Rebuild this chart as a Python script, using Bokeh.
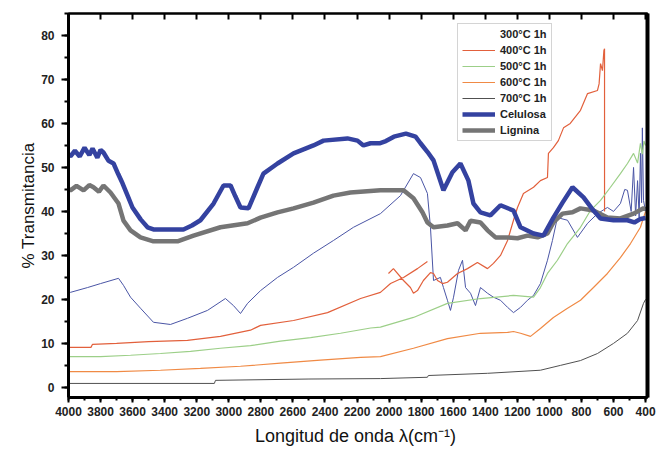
import math
from bokeh.plotting import figure
from bokeh.models import (Range1d, LinearAxis, SingleIntervalTicker, FixedTicker, Legend, LegendItem)
from bokeh.embed import file_html
from bokeh.resources import INLINE

NaN = float("nan")

# ---------------- data ----------------
x_300 = [4000, 3988, 3881, 3800, 3688, 3657, 3613, 3551, 3470, 3364, 3258, 3133, 3021, 2971, 2927,
         2883, 2802, 2696, 2596, 2472, 2347, 2222, 2054, 1929, 1848, 1804, 1761, 1742, 1723, 1680,
         1661, 1636, 1617, 1598, 1567, 1542, 1523, 1492, 1461, 1430, 1386, 1349, 1305, 1261, 1224,
         1180, 1137, 1099, 1056, 1012, 981, 950, 887, 825, 762, 700, 638, 600, 557, 530, 513, 490,
         475, 462, 450, 440, 432, 425, 420, 413, 400]
y_300 = [21.8, 21.6, 22.7, 23.6, 24.8, 23.2, 20.5, 18.0, 14.8, 14.3, 15.7, 17.5, 20.2, 18.6, 16.8,
         19.1, 22.0, 25.0, 27.3, 30.5, 33.4, 36.4, 39.5, 43.6, 48.6, 47.7, 44.1, 36.4, 24.3, 25.0,
         22.7, 19.8, 17.5, 20.5, 26.6, 28.9, 22.7, 21.4, 18.6, 22.7, 21.4, 20.5, 19.8, 18.2, 17.0,
         18.2, 19.8, 20.9, 23.6, 28.9, 33.4, 38.6, 38.0, 34.1, 37.3, 39.5, 40.9, 40.0, 41.8, 45.0,
         44.8, 40.0, 50.0, 39.0, 47.0, 38.6, 53.2, 42.0, 59.0, 42.5, 40.0]

x_400 = [4000, 3860, 3850, 3700, 3500, 3258, 3052, 2865, 2802, 2596, 2384, 2178, 2054, 1991, 1910,
         1823, 1761, NaN,
         2004, 1973, 1910, 1867, 1848, 1823, 1786, 1742, 1723, 1698, 1667, 1636, 1573, 1511, 1449,
         1386, 1349, 1305, 1261, 1224, 1199, 1162, 1099, 1056, 1012, 1006, 975, 944, 912, 870, 806,
         762, 700, 690, 681, 669, 660, 656, 656]
y_400 = [9.1, 9.1, 9.8, 10.0, 10.4, 10.7, 11.6, 13.0, 14.1, 15.2, 17.0, 20.2, 21.6, 23.6, 25.0,
         27.0, 28.6, NaN,
         25.9, 27.0, 24.3, 22.7, 21.4, 22.0, 24.3, 26.1, 25.9, 24.3, 23.6, 23.9, 25.9, 27.0, 28.4,
         27.0, 28.2, 30.0, 33.4, 38.0, 40.9, 44.1, 45.5, 47.0, 47.7, 53.2, 54.5, 56.1, 59.0, 60.0,
         63.0, 66.8, 67.5, 69.0, 73.6, 72.0, 76.6, 77.0, 40.0]

x_500 = [4000, 3800, 3613, 3426, 3239, 3052, 2865, 2678, 2490, 2303, 2115, 2054, 1848, 1636, 1430,
         1224, 1099, 1056, 1012, 950, 887, 806, 744, 681, 619, 557, 513, 475, 450, 432, 420, 410, 400]
y_500 = [7.0, 7.0, 7.3, 7.7, 8.2, 8.9, 9.5, 10.5, 11.3, 12.3, 13.5, 13.7, 15.9, 19.1, 20.2,
         20.9, 20.5, 22.7, 25.9, 28.9, 32.7, 36.4, 40.2, 42.5, 45.5, 48.6, 50.9, 53.2, 51.0, 55.5,
         53.0, 56.0, 55.0]

x_600 = [4000, 3700, 3426, 3177, 2927, 2678, 2428, 2178, 2054, 1848, 1636, 1430, 1261, 1224, 1180,
         1118, 1056, 975, 887, 806, 725, 638, 557, 494, 432, 413, 400]
y_600 = [3.6, 3.6, 3.9, 4.3, 4.8, 5.5, 6.2, 6.8, 7.0, 8.9, 11.1, 12.3, 12.5, 12.7, 12.3,
         11.6, 13.4, 15.9, 18.0, 19.8, 22.7, 25.9, 29.5, 32.7, 36.4, 38.6, 40.0]

x_700 = [4000, 3090, 3083, 2500, 2054, 1761, 1755, 1386, 1056, 931, 806, 700, 600, 513, 450, 413, 400]
y_700 = [0.9, 0.9, 1.6, 1.9, 2.0, 2.3, 2.7, 3.2, 3.9, 5.0, 6.1, 7.7, 10.0, 12.3, 15.2, 19.1, 20.0]

x_cel = [4000, 3988, 3960, 3930, 3900, 3870, 3850, 3820, 3800, 3782, 3750, 3719, 3690, 3663, 3630,
         3601, 3550, 3507, 3470, 3283, 3230, 3177, 3095, 3033, 2989, 2960, 2927, 2877, 2821, 2784,
         2696, 2596, 2472, 2409, 2260, 2197, 2160, 2116, 2060, 2020, 1970, 1895, 1835, 1804, 1760,
         1723, 1661, 1605, 1555, 1505, 1474, 1430, 1368, 1305, 1224, 1180, 1099, 1037, 975, 918,
         856, 787, 725, 681, 600, 513, 470, 432, 400]
y_cel = [53.0, 52.5, 53.8, 52.5, 54.5, 52.8, 54.3, 52.2, 54.0, 53.4, 51.5, 50.9, 48.5, 46.4, 43.5,
         40.9, 38.2, 36.4, 35.9, 35.9, 36.8, 38.0, 41.8, 45.9, 45.9, 43.5, 40.9, 40.7, 45.5, 48.6,
         50.9, 53.2, 55.0, 56.1, 56.6, 56.1, 55.0, 55.5, 55.5, 56.0, 57.0, 57.7, 57.0, 55.5, 53.5,
         51.6, 44.8, 48.9, 50.9, 47.0, 41.8, 39.8, 39.1, 41.4, 40.2, 36.4, 35.0, 34.5, 38.6, 42.0,
         45.5, 43.2, 40.2, 38.4, 38.0, 38.0, 37.5, 38.3, 38.5]

x_lig = [4000, 3988, 3950, 3906, 3870, 3844, 3810, 3782, 3738, 3688, 3657, 3613, 3551, 3470, 3320,
         3220, 3052, 2883, 2802, 2696, 2596, 2472, 2347, 2241, 2054, 1910, 1848, 1792, 1761, 1723,
         1636, 1573, 1523, 1492, 1430, 1386, 1336, 1261, 1199, 1137, 1074, 1012, 975, 918, 856,
         806, 725, 638, 557, 475, 413, 400]
y_lig = [45.0, 44.8, 45.8, 44.8, 46.0, 45.5, 44.5, 45.9, 44.3, 41.8, 37.9, 35.7, 34.1, 33.2, 33.2,
         34.5, 36.4, 37.3, 38.6, 39.8, 40.7, 42.0, 43.6, 44.3, 44.8, 44.8, 43.0, 39.8, 37.5, 36.4,
         36.8, 37.3, 35.7, 37.9, 37.5, 35.7, 34.1, 34.1, 33.9, 34.5, 34.1, 35.0, 37.5, 39.5, 39.8,
         40.7, 40.2, 38.6, 38.4, 39.5, 40.7, 40.5]

legend_labels = ["300°C 1h", "400°C 1h", "500°C 1h", "600°C 1h", "700°C 1h", "Celulosa", "Lignina"]

# top-frame tick marks (no labels), every 200 cm-1
top_ticks = list(range(3800, 399, -200))

FONT = "Liberation Sans"

p = figure(width=668, height=450, output_backend="svg", toolbar_location=None,
           x_range=Range1d(4000, 388), y_range=Range1d(-2.3, 85),
           min_border_left=68, min_border_right=21, min_border_top=13, min_border_bottom=53)
p.grid.visible = False
p.outline_line_color = "black"
p.outline_line_width = 2
p.background_fill_color = "white"
p.border_fill_color = "white"

# series
r300 = p.line(x_300, y_300, line_color="#4a55a5", line_width=1)
r400 = p.line(x_400, y_400, line_color="#e2603c", line_width=1.2)
r500 = p.line(x_500, y_500, line_color="#9ccf88", line_width=1.2)
r600 = p.line(x_600, y_600, line_color="#f08a45", line_width=1.2)
r700 = p.line(x_700, y_700, line_color="#505050", line_width=1)
rlig = p.line(x_lig, y_lig, line_color="#757575", line_width=4.5)
rcel = p.line(x_cel, y_cel, line_color="#3442a0", line_width=4.5)
rnone = p.line([NaN], [NaN], line_alpha=0)

# axes
xa = p.xaxis[0]
xa.ticker = SingleIntervalTicker(interval=200, num_minor_ticks=2)
xa.axis_label = "Longitud de onda  λ(cm⁻¹)"
ya = p.yaxis[0]
ya.ticker = SingleIntervalTicker(interval=10, num_minor_ticks=2)
ya.axis_label = "% Transmitancia"
for ax in (xa, ya):
    ax.axis_line_width = 3
    ax.axis_line_color = "black"
    ax.major_tick_line_width = 2
    ax.minor_tick_line_width = 2
    ax.major_tick_in = 0
    ax.minor_tick_in = 0
    ax.major_label_text_font = FONT
    ax.major_label_text_font_style = "bold"
    ax.major_label_text_color = "#222222"
    ax.axis_label_text_font = FONT
    ax.axis_label_text_font_style = "normal"
    ax.axis_label_text_color = "#111111"
xa.major_tick_out = 5
xa.minor_tick_out = 3
xa.major_label_text_font_size = "12px"
xa.major_label_standoff = 4
xa.axis_label_text_font_size = "18px"
xa.axis_label_standoff = 7
ya.major_tick_out = 7
ya.minor_tick_out = 4
ya.major_label_text_font_size = "12px"
ya.major_label_standoff = 7
ya.axis_label_text_font_size = "17px"
ya.axis_label_standoff = 0

# top frame: only (label-free) minor ticks pointing inward
top = LinearAxis(ticker=FixedTicker(ticks=[], minor_ticks=top_ticks),
                 major_tick_line_color=None,
                 minor_tick_in=6, minor_tick_out=0, minor_tick_line_width=2,
                 minor_tick_line_color="black", axis_line_width=2)
p.add_layout(top, "above")
# right frame: thick line, no ticks
right = LinearAxis(ticker=FixedTicker(ticks=[]), major_tick_line_color=None,
                   minor_tick_line_color=None, axis_line_width=4)
p.add_layout(right, "right")

renderers = [rnone, r400, r500, r600, r700, rcel, rlig]
items = [LegendItem(label=lab, renderers=[r]) for lab, r in zip(legend_labels, renderers)]
legend = Legend(items=items, location=(389, 256))
legend.label_text_font = FONT
legend.label_text_font_style = "bold"
legend.label_text_font_size = "11px"
legend.label_text_color = "#222222"
legend.glyph_width = 33
legend.glyph_height = 12
legend.label_height = 12
legend.spacing = 4
legend.padding = 4
legend.margin = 0
legend.label_standoff = 5
legend.border_line_color = "#aaaaaa"
legend.border_line_width = 1
legend.background_fill_alpha = 1
p.add_layout(legend, "center")

open("out.html", "w").write(file_html(p, INLINE))
